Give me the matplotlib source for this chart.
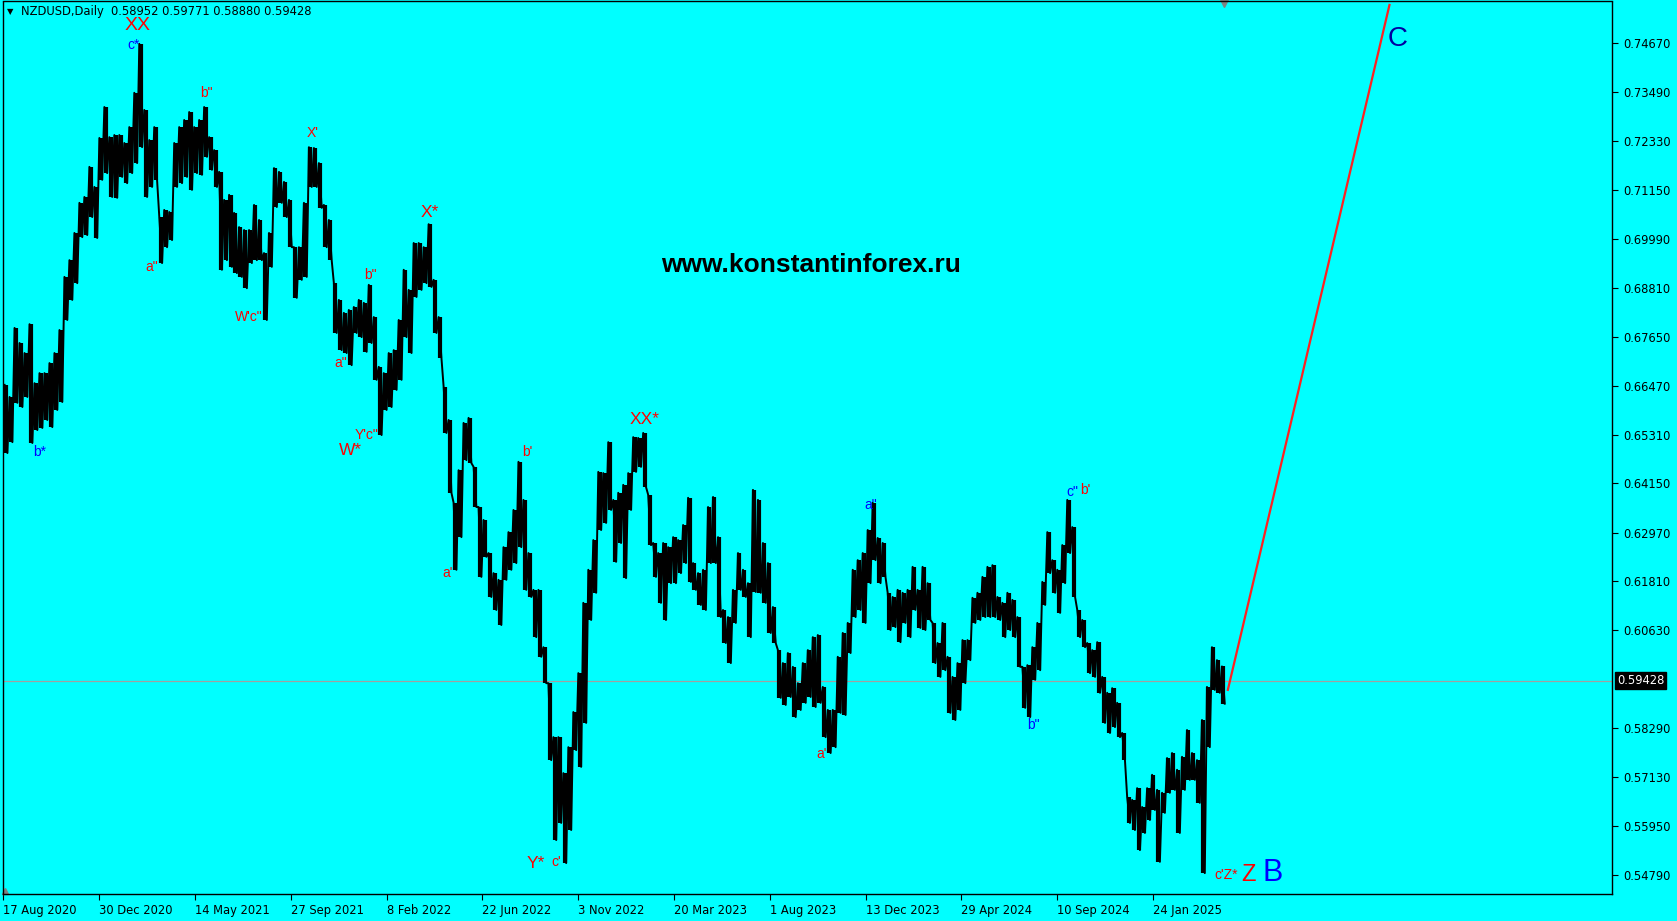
import numpy as np
import matplotlib
matplotlib.use("Agg")
import matplotlib.pyplot as plt
import matplotlib.transforms as mtransforms

highs = [
    0.6650, 0.6621, 0.6786, 0.6750, 0.6726, 0.6795, 0.6654, 0.6678, 0.6678, 0.6702,
    0.6726, 0.6781, 0.6908, 0.6948, 0.7013, 0.7085, 0.7099, 0.7171, 0.7123, 0.7240,
    0.7314, 0.7242, 0.7247, 0.7247, 0.7228, 0.7266, 0.7348, 0.7465, 0.7307, 0.7235,
    0.7266, 0.7051, 0.7068, 0.7063, 0.7228, 0.7266, 0.7283, 0.7302, 0.7266, 0.7283,
    0.7314, 0.7242, 0.7211, 0.7159, 0.7092, 0.7104, 0.7061, 0.7027, 0.7020, 0.7020,
    0.7080, 0.7044, 0.6965, 0.7013, 0.7168, 0.7159, 0.7135, 0.7092, 0.6979, 0.6979,
    0.7085, 0.7218, 0.7216, 0.7180, 0.7080, 0.7044, 0.6893, 0.6853, 0.6822, 0.6829,
    0.6836, 0.6853, 0.6846, 0.6889, 0.6812, 0.6693, 0.6678, 0.6726, 0.6733, 0.6805,
    0.6925, 0.6877, 0.6989, 0.6989, 0.6979, 0.7034, 0.6901, 0.6812, 0.6645, 0.6566,
    0.6368, 0.6446, 0.6559, 0.6571, 0.6454, 0.6358, 0.6327, 0.6248, 0.6200, 0.6184,
    0.6262, 0.6298, 0.6351, 0.6466, 0.6375, 0.6248, 0.6160, 0.6160, 0.6023, 0.5937,
    0.5808, 0.5808, 0.5722, 0.5784, 0.5868, 0.5961, 0.6129, 0.6208, 0.6279, 0.6442,
    0.6439, 0.6513, 0.6375, 0.6392, 0.6411, 0.6439, 0.6525, 0.6523, 0.6535, 0.6387,
    0.6272, 0.6248, 0.6272, 0.6262, 0.6286, 0.6279, 0.6315, 0.6380, 0.6224, 0.6200,
    0.6208, 0.6358, 0.6382, 0.6286, 0.6112, 0.6095, 0.6160, 0.6248, 0.6208, 0.6176,
    0.6399, 0.6375, 0.6272, 0.6224, 0.6119, 0.6016, 0.5985, 0.6009, 0.5976, 0.5937,
    0.5985, 0.6016, 0.6047, 0.6052, 0.5928, 0.5873, 0.5873, 0.6000, 0.6057, 0.6081,
    0.6208, 0.6231, 0.6248, 0.6303, 0.6368, 0.6284, 0.6272, 0.6153, 0.6143, 0.6160,
    0.6153, 0.6160, 0.6215, 0.6160, 0.6215, 0.6176, 0.6081, 0.6033, 0.6081, 0.6000,
    0.5952, 0.5985, 0.6040, 0.6040, 0.6141, 0.6153, 0.6191, 0.6215, 0.6219, 0.6143,
    0.6129, 0.6153, 0.6136, 0.6095, 0.5976, 0.5980, 0.6023, 0.6081, 0.6179, 0.6298,
    0.6231, 0.6208, 0.6267, 0.6375, 0.6310, 0.6112, 0.6088, 0.6033, 0.6016, 0.6035,
    0.5952, 0.5914, 0.5925, 0.5890, 0.5818, 0.5665, 0.5658, 0.5686, 0.5641, 0.5686,
    0.5718, 0.5682, 0.5675, 0.5758, 0.5770, 0.5730, 0.5761, 0.5825, 0.5770, 0.5753,
    0.5849, 0.5928, 0.6023, 0.5992, 0.5977,
]
lows = [
    0.6487, 0.6513, 0.6607, 0.6597, 0.6621, 0.6511, 0.6542, 0.6547, 0.6566, 0.6549,
    0.6590, 0.6609, 0.6805, 0.6853, 0.6893, 0.7003, 0.7008, 0.7051, 0.7001, 0.7140,
    0.7156, 0.7099, 0.7097, 0.7147, 0.7132, 0.7156, 0.7180, 0.7218, 0.7099, 0.7123,
    0.7140, 0.6941, 0.6979, 0.6996, 0.7123, 0.7132, 0.7147, 0.7116, 0.7156, 0.7152,
    0.7195, 0.7164, 0.7123, 0.6925, 0.6948, 0.6932, 0.6917, 0.6908, 0.6881, 0.6941,
    0.6948, 0.6948, 0.6805, 0.6932, 0.7075, 0.7085, 0.7051, 0.6979, 0.6858, 0.6901,
    0.6908, 0.7123, 0.7123, 0.7073, 0.6979, 0.6948, 0.6774, 0.6733, 0.6726, 0.6697,
    0.6774, 0.6764, 0.6729, 0.6750, 0.6662, 0.6530, 0.6590, 0.6597, 0.6638, 0.6662,
    0.6764, 0.6726, 0.6860, 0.6877, 0.6893, 0.6884, 0.6774, 0.6714, 0.6535, 0.6392,
    0.6208, 0.6286, 0.6470, 0.6463, 0.6358, 0.6191, 0.6239, 0.6143, 0.6112, 0.6076,
    0.6184, 0.6208, 0.6224, 0.6262, 0.6160, 0.6143, 0.6047, 0.6000, 0.5937, 0.5753,
    0.5562, 0.5603, 0.5507, 0.5586, 0.5777, 0.5737, 0.5842, 0.6088, 0.6153, 0.6303,
    0.6320, 0.6351, 0.6227, 0.6272, 0.6188, 0.6351, 0.6442, 0.6454, 0.6406, 0.6267,
    0.6191, 0.6129, 0.6088, 0.6176, 0.6176, 0.6200, 0.6224, 0.6179, 0.6160, 0.6124,
    0.6112, 0.6224, 0.6224, 0.6095, 0.6033, 0.5985, 0.6081, 0.6160, 0.6143, 0.6047,
    0.6155, 0.6153, 0.6129, 0.6057, 0.6033, 0.5902, 0.5885, 0.5904, 0.5856, 0.5873,
    0.5890, 0.5904, 0.5880, 0.5890, 0.5808, 0.5770, 0.5784, 0.5866, 0.5861, 0.6009,
    0.6095, 0.6112, 0.6081, 0.6176, 0.6231, 0.6176, 0.6191, 0.6064, 0.6071, 0.6035,
    0.6081, 0.6047, 0.6112, 0.6069, 0.6064, 0.6088, 0.5985, 0.5952, 0.5968, 0.5866,
    0.5849, 0.5873, 0.5937, 0.5992, 0.6081, 0.6088, 0.6095, 0.6095, 0.6095, 0.6088,
    0.6047, 0.6064, 0.6047, 0.5976, 0.5878, 0.5856, 0.5945, 0.5968, 0.6124, 0.6200,
    0.6153, 0.6105, 0.6176, 0.6248, 0.6143, 0.6047, 0.6023, 0.5961, 0.5952, 0.5914,
    0.5842, 0.5818, 0.5832, 0.5808, 0.5753, 0.5603, 0.5586, 0.5538, 0.5579, 0.5610,
    0.5634, 0.5510, 0.5627, 0.5675, 0.5682, 0.5579, 0.5682, 0.5706, 0.5706, 0.5651,
    0.5483, 0.5784, 0.5921, 0.5914, 0.5888,
]
bars_per_block = 5

last_ohlc = [0.58952, 0.59771, 0.58880, 0.59428]

date_labels = ["17 Aug 2020", "30 Dec 2020", "14 May 2021", "27 Sep 2021", "8 Feb 2022",
               "22 Jun 2022", "3 Nov 2022", "20 Mar 2023", "1 Aug 2023", "13 Dec 2023",
               "29 Apr 2024", "10 Sep 2024", "24 Jan 2025"]
bars_between_dates = 96

price_ticks = [0.74670, 0.73490, 0.72330, 0.71150, 0.69990, 0.68810, 0.67650, 0.66470,
               0.65310, 0.64150, 0.62970, 0.61810, 0.60630, 0.58290, 0.57130, 0.55950,
               0.54790]

# wave labels: text, colour, size, bar, price
wave_labels = [
    ("XX", "red", 14, 134, 0.7510),
    ("c*", "blue", 10, 130, 0.7462),
    ('b"', "red", 10, 203, 0.7347),
    ('a"', "red", 10, 149, 0.6932),
    ("X'", "red", 10, 310, 0.7252),
    ('W\'c"', "red", 10, 246, 0.6812),
    ("X*", "red", 12.5, 427, 0.7063),
    ('b"', "red", 10, 368, 0.6913),
    ('a"', "red", 10, 338, 0.6702),
    ('Y\'c"', "red", 10, 364, 0.6530),
    ("W*", "red", 12.5, 348, 0.6492),
    ("b*", "blue", 10, 36, 0.6490),
    ("a'", "red", 10, 445, 0.6200),
    ("b'", "red", 10, 525, 0.6490),
    ("Y*", "red", 12.5, 533, 0.5507),
    ("c'", "red", 10, 554, 0.5510),
    ("XX*", "red", 12.5, 643, 0.6568),
    ("a'", "red", 10, 820, 0.5768),
    ('a"', "blue", 10, 869, 0.6363),
    ('b"', "blue", 10, 1032, 0.5837),
    ('c"', "blue", 10, 1071, 0.6394),
    ("b'", "red", 10, 1084, 0.6399),
    ("c'Z*", "red", 10, 1225, 0.5479),
    ("Z", "red", 17, 1248, 0.5479),
    ("B", "blue", 22, 1272, 0.5483),
    ("C", "#0000a0", 20, 1397, 0.7477),
]

# projected red line (bar, price)
trend_x = [1227, 1389]
trend_y = [0.5921, 0.7558]

BG = "#00ffff"
fig = plt.figure(figsize=(16.77, 9.21), dpi=100, facecolor=BG)
W, H = 1677, 921
ax = fig.add_axes([3 / W, 27 / H, 1609 / W, 892.5 / H], facecolor=BG)

hi = np.array(highs)
lo = np.array(lows)
xb = np.arange(len(hi)) * bars_per_block + bars_per_block / 2

ax.vlines(xb, lo, hi, color="black", lw=3.0)
zx = np.column_stack([xb - 1.4, xb + 1.4]).ravel()
zy = np.column_stack([hi, lo]).ravel()
ax.plot(zx, zy, color="black", lw=1.4)

# current price line
ax.axhline(last_ohlc[3], color="#a0a0a0", lw=0.9, zorder=1)

ax.plot(trend_x, trend_y, color="#ff2020", lw=1.6)

for txt, col, fs, bx, py in wave_labels:
    ax.text(bx, py, txt, color=col, fontsize=fs, family="Liberation Sans",
            ha="center", va="center")

ax.text(809, 0.6936, "www.konstantinforex.ru", fontsize=19, fontweight="bold",
        family="Liberation Sans", ha="center", va="center")

ax.set_xlim(-0.5, 1612)
ax.set_ylim(0.54331, 0.75662)

for s in ax.spines.values():
    s.set_color("black")
    s.set_linewidth(1)

ax.yaxis.tick_right()
ax.set_yticks(price_ticks)
ax.set_yticklabels([f"{p:.5f}" for p in price_ticks])
ax.set_xticks(np.arange(len(date_labels)) * bars_between_dates)
ax.set_xticklabels(date_labels, ha="left")
ax.tick_params(axis="y", direction="out", length=4, width=0.8, pad=4,
               labelsize=8.3, colors="black")
ax.tick_params(axis="x", direction="out", length=4, width=0.8, pad=3,
               labelsize=8.3, colors="black")

# current price tag
trans = mtransforms.blended_transform_factory(ax.transAxes, ax.transData)
ax.text(1.003, last_ohlc[3], f"{last_ohlc[3]:.5f}", transform=trans, color="white",
        fontsize=8.3, ha="left", va="center",
        bbox=dict(facecolor="black", edgecolor="black", pad=1.5))

# chart shift marker and corner marker
ax.plot([1223], [0.75662], marker="v", color="#808080", ms=7, clip_on=False)
ax.plot([2], [0.5441], marker="^", color="#808080", ms=4, clip_on=False)

# header
fig.text(7 / W, 1 - 12 / H, "\u25BC", fontsize=6, color="black", va="center")
fig.text(21 / W, 1 - 12 / H,
         "NZDUSD,Daily  " + " ".join(f"{v:.5f}" for v in last_ohlc),
         fontsize=8.3, color="black", va="center")

fig.savefig("out.png", dpi=100, facecolor=BG)
